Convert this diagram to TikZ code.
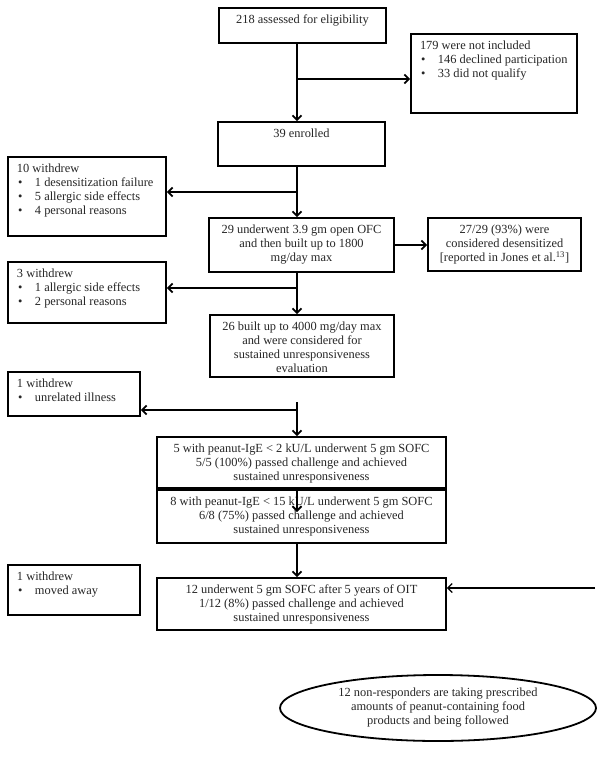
\documentclass[tikz,border=0pt]{standalone}
\usepackage{fontspec}
\setmainfont{Liberation Serif}
\usetikzlibrary{arrows.meta,shapes.geometric}
\newcommand{\cbx}[3]{\parbox[c][#2pt][t]{#1pt}{\centering\rule{0pt}{15.5pt}#3}}
\newcommand{\lbx}[3]{\parbox[c][#2pt][t]{#1pt}{\raggedright\leftskip=9pt\rule{0pt}{15.5pt}#3}}
\newcommand{\bul}{\makebox[18pt][l]{\hspace{1pt}\textbullet}}
\begin{document}
\begin{tikzpicture}[x=1pt,y=-1pt,
  font=\fontsize{12.4}{14}\selectfont,
  box/.style={draw, line width=1.8pt, inner sep=0pt, text=black!85},
  oval/.style={draw, ellipse, line width=1.8pt, inner sep=0pt, minimum width=316pt, minimum height=66pt, align=center, text=black!85},
  arr/.style={line width=1.8pt, -{Straight Barb[length=4.5pt,width=9pt]}}]
\useasboundingbox (0,0) rectangle (603,761);
\fill[white] (0,0) rectangle (603,761);
\node[box] (B1) at (302.5,25.5) {\cbx{167}{35}{218 assessed for eligibility}};
\node[box] (R1) at (494,73.5) {\lbx{166}{79}{179 were not included\\\bul 146 declined participation\\\bul 33 did not qualify}};
\node[box] (B2) at (301.5,144) {\cbx{167}{44}{39 enrolled}};
\node[box] (L1) at (87,196.5) {\lbx{158}{79}{10 withdrew\\\bul 1 desensitization failure\\\bul 5 allergic side effects\\\bul 4 personal reasons}};
\node[box] (B3) at (301.5,245) {\cbx{185}{54}{29 underwent 3.9 gm open OFC\\and then built up to 1800\\mg/day max}};
\node[box] (R2) at (504.5,244.5) {\cbx{153}{53}{27/29 (93\%) were\\considered desensitized\\{[}reported in Jones et al.\textsuperscript{13}]}};
\node[box] (L2) at (87,292.5) {\lbx{158}{61}{3 withdrew\\\bul 1 allergic side effects\\\bul 2 personal reasons}};
\node[box] (B4) at (302,346) {\cbx{184}{62}{26 built up to 4000 mg/day max\\and were considered for\\sustained unresponsiveness\\evaluation}};
\node[box] (L3) at (74,394) {\lbx{132}{44}{1 withdrew\\\bul unrelated illness}};
\node[box] (B5) at (301.5,462.5) {\cbx{289}{51}{5 with peanut-IgE < 2 kU/L underwent 5 gm SOFC\\5/5 (100\%) passed challenge and achieved\\sustained unresponsiveness}};
\node[box] (B6) at (301.5,516.5) {\cbx{289}{53}{8 with peanut-IgE < 15 kU/L underwent 5 gm SOFC\\6/8 (75\%) passed challenge and achieved\\sustained unresponsiveness}};
\node[box] (L4) at (74,590) {\lbx{132}{50}{1 withdrew\\\bul moved away}};
\node[box] (B7) at (301.5,604) {\cbx{289}{52}{12 underwent 5 gm SOFC after 5 years of OIT\\1/12 (8\%) passed challenge and achieved\\sustained unresponsiveness}};
\node[oval] (E) at (438,708) {12 non-responders are taking prescribed\\amounts of peanut-containing food\\products and being followed};
\coordinate (tx) at (297,0);
\coordinate (br1) at (297,79);
\coordinate (br2) at (297,192);
\coordinate (br3) at (297,288);
\coordinate (top5) at (297,402);
\coordinate (br4) at (297,410);
\coordinate (in6) at (297,512);
\coordinate (rin) at (595,588);
\draw[arr] (B1.south -| tx) -- (B2.north -| tx);
\draw[arr] (br1) -- (br1 -| R1.west);
\draw[arr] (B2.south -| tx) -- (B3.north -| tx);
\draw[arr] (br2) -- (br2 -| L1.east);
\draw[arr] (B3.east) -- (B3.east -| R2.west);
\draw[arr] (B3.south -| tx) -- (B4.north -| tx);
\draw[arr] (br3) -- (br3 -| L2.east);
\draw[arr] (top5) -- (B5.north -| tx);
\draw[arr] (br4) -- (br4 -| L3.east);
\draw[arr] (B5.south -| tx) -- (in6);
\draw[arr] (B6.south -| tx) -- (B7.north -| tx);
\draw[arr, line width=1.2pt] (rin) -- (rin -| B7.east);
\end{tikzpicture}
\end{document}
